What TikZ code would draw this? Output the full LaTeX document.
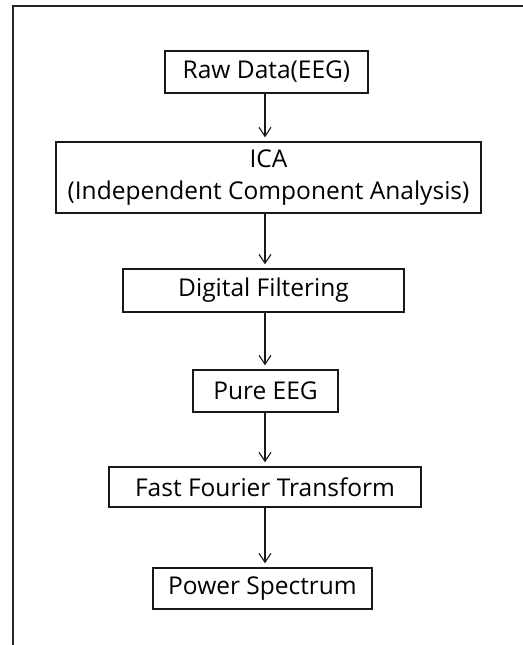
\documentclass[tikz,border=0pt]{standalone}
\usepackage{fontspec}
\setmainfont{Open Sans}
\usetikzlibrary{arrows.meta}
\begin{document}
\begin{tikzpicture}[x=1bp,y=-1bp,
  box/.style={draw=black!90,line width=1.4bp,inner sep=0pt,align=center,font=\fontsize{24.5bp}{32bp}\selectfont},
  arr/.style={draw=black!90,line width=1.1bp,-{Straight Barb[length=9bp,width=12bp]},shorten >=4bp}]
\useasboundingbox (0,0) rectangle (523,645);
\draw[line width=1.3bp,black!85] (13,645) -- (13,6) -- (523,6);
\coordinate (ax) at (265,0);
\node[box,minimum width=203bp,minimum height=42bp] (raw) at (266.5,72) {Raw Data(EEG)};
\node[box,minimum width=425bp,minimum height=71bp] (ica) at (268.5,177.5) {ICA\\(Independent Component Analysis)};
\node[box,minimum width=281bp,minimum height=43bp] (df) at (263.5,290.5) {Digital Filtering};
\node[box,minimum width=145bp,minimum height=42bp] (pure) at (265.5,391) {Pure EEG};
\node[box,minimum width=312bp,minimum height=40bp] (fft) at (265,487) {Fast Fourier Transform};
\node[box,minimum width=219bp,minimum height=41bp] (ps) at (262.5,588.5) {Power Spectrum};
\draw[arr] (raw.south -| ax) -- (ica.north -| ax);
\draw[arr] (ica.south -| ax) -- (df.north -| ax);
\draw[arr] (df.south -| ax) -- (pure.north -| ax);
\draw[arr] (pure.south -| ax) -- (fft.north -| ax);
\draw[arr] (fft.south -| ax) -- (ps.north -| ax);
\end{tikzpicture}
\end{document}
